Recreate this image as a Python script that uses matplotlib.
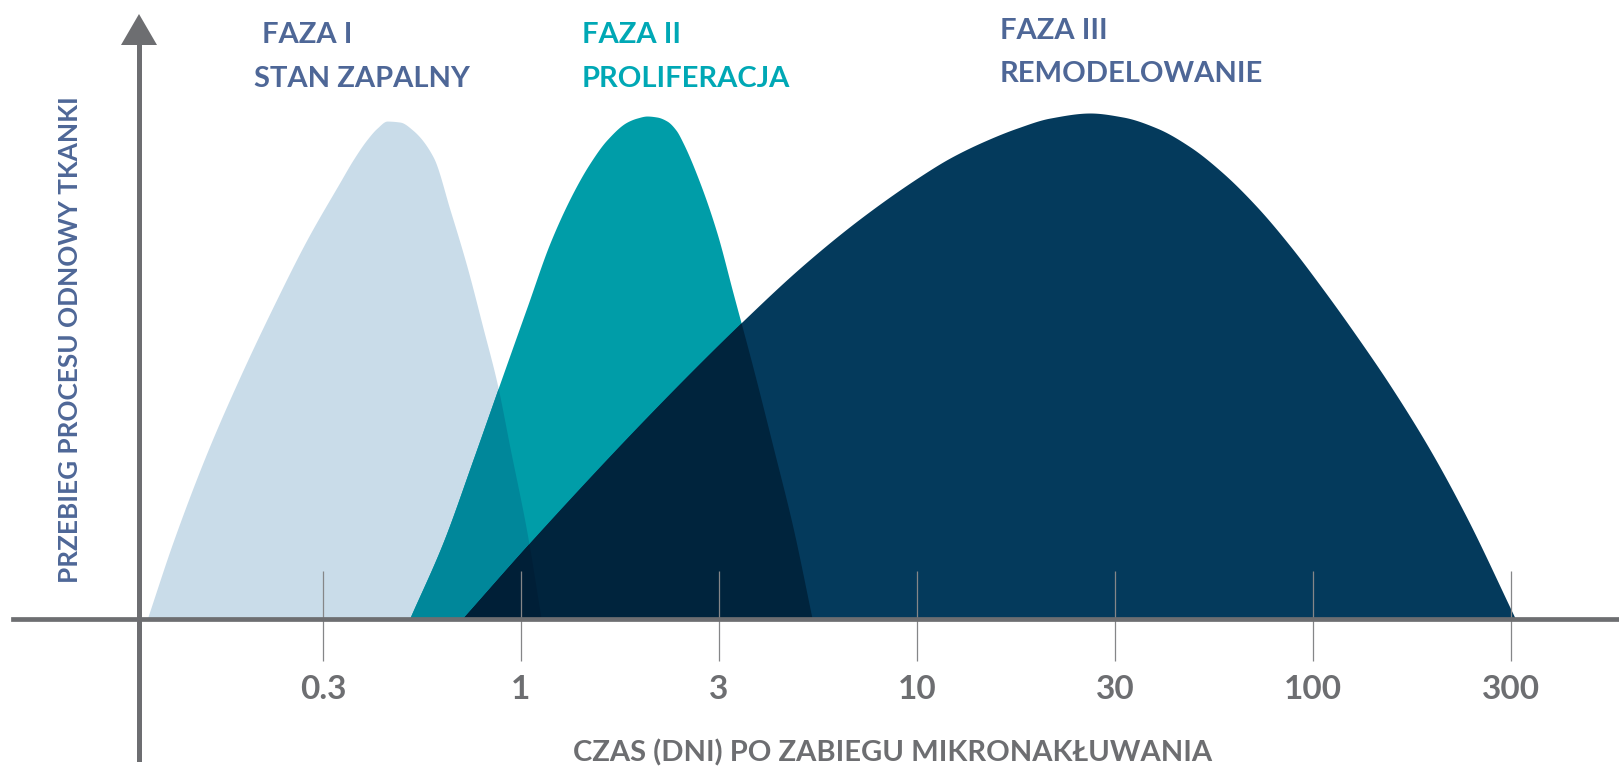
import numpy as np
import matplotlib
matplotlib.use("Agg")
import matplotlib.pyplot as plt
from matplotlib.colors import to_rgb
from matplotlib.patches import Polygon

# --- dane (dni, wysokość względna 0-100) ---
faza1_dni = [0.114, 0.132, 0.161, 0.195, 0.2365, 0.288, 0.349, 0.3765, 0.408, 0.433,
             0.459, 0.495, 0.533, 0.600, 0.662, 0.731, 0.802, 0.870, 0.938, 1.035, 1.123]
faza1_val = [0.0, 14.9, 32.7, 47.7, 61.6, 74.9, 86.3, 90.7, 94.7, 97.0,
             98.4, 98.2, 96.6, 91.3, 80.8, 69.5, 57.4, 46.5, 33.7, 17.0, 0.0]

faza2_dni = [0.524, 0.635, 0.756, 0.885, 1.036, 1.184, 1.353, 1.494, 1.649, 1.852, 1.963,
             2.080, 2.205, 2.337, 2.463, 2.565, 2.832, 3.126, 3.43, 3.85, 4.33, 4.86, 5.43]
faza2_val = [0.0, 14.9, 31.3, 46.5, 61.6, 74.3, 84.2, 90.1, 94.7, 98.2, 99.0,
             99.4, 99.2, 98.4, 96.6, 94.1, 86.1, 76.2, 64.4, 49.7, 33.9, 18.0, 0.0]

faza3_dni = [0.714, 1.072, 2.117, 3.59, 5.13, 7.22, 10.2, 12.12, 14.68, 17.88, 21.68,
             27.35, 33.13, 40.37, 48.92, 59.26, 72.22, 87.5, 106.0, 128.4, 156.5,
             197.5, 244.9, 323.7]
faza3_val = [0.0, 15.6, 40.4, 58.4, 69.7, 79.2, 87.5, 91.1, 94.3, 97.0, 99.0,
             100.0, 99.2, 97.0, 93.3, 88.1, 81.4, 73.7, 65.1, 56.0, 46.1,
             33.3, 19.8, 0.0]

tick_vals = [10 ** -0.5, 1, 10 ** 0.5, 10, 10 ** 1.5, 100, 10 ** 2.5]
tick_labels = ["0.3", "1", "3", "10", "30", "100", "300"]

faza_tytuly = ["FAZA I", "FAZA II", "FAZA III"]
faza_nazwy = ["STAN ZAPALNY", "PROLIFERACJA", "REMODELOWANIE"]

# kolory
c_light = "#C9DCE9"
c_teal = "#009DA8"
c_navy = "#043A5C"
c_gray = "#6D6E71"
c_title_blue = "#4E6797"
c_title_teal = "#00A8B5"


def multiply(*cols):
    out = np.ones(3)
    for c in cols:
        out = out * np.array(to_rgb(c))
    return tuple(out)


def pchip(x, y, xi):
    # gładka krzywa przez odczytane punkty (monotoniczna Hermite'a)
    x = np.asarray(x, float)
    y = np.asarray(y, float)
    h = np.diff(x)
    d = np.diff(y) / h
    m = np.zeros_like(y)
    m[0], m[-1] = d[0], d[-1]
    for k in range(1, len(x) - 1):
        if d[k - 1] * d[k] > 0:
            w1 = 2 * h[k] + h[k - 1]
            w2 = h[k] + 2 * h[k - 1]
            m[k] = (w1 + w2) / (w1 / d[k - 1] + w2 / d[k])
    out = np.zeros_like(xi)
    inside = (xi >= x[0]) & (xi <= x[-1])
    xs = xi[inside]
    i = np.clip(np.searchsorted(x, xs) - 1, 0, len(x) - 2)
    t = (xs - x[i]) / h[i]
    h00 = 2 * t ** 3 - 3 * t ** 2 + 1
    h10 = t ** 3 - 2 * t ** 2 + t
    h01 = -2 * t ** 3 + 3 * t ** 2
    h11 = t ** 3 - t ** 2
    out[inside] = h00 * y[i] + h10 * h[i] * m[i] + h01 * y[i + 1] + h11 * h[i] * m[i + 1]
    return np.clip(out, 0, None)


W, H = 1619, 767
fig = plt.figure(figsize=(W / 100, H / 100), dpi=100)
ax = fig.add_axes([0, 0, 1, 1])
ax.set_xscale("log")
# 1 tick (pół dekady) = 198 px, 1 dzień na x=521 px, linia bazowa na y=618 px
ax.set_xlim(10 ** (-521 / 396), 10 ** ((W - 521) / 396))
ax.set_ylim((618 - H) / 5.05, 618 / 5.05)
ax.axis("off")


def fx(px):
    return px / W


def fy(py):
    return 1 - py / H


# wspólna siatka do liczenia części wspólnych (efekt "multiply")
grid = np.logspace(-1.3, 2.7, 5000)
lg = np.log10(grid)
y1 = pchip(np.log10(faza1_dni), faza1_val, lg)
y2 = pchip(np.log10(faza2_dni), faza2_val, lg)
y3 = pchip(np.log10(faza3_dni), faza3_val, lg)

ax.fill_between(grid, 0, y1, color=c_light, lw=0, zorder=1)
ax.fill_between(grid, 0, y2, color=c_teal, lw=0, zorder=2)
ax.fill_between(grid, 0, y3, color=c_navy, lw=0, zorder=3)
ax.fill_between(grid, 0, np.minimum(y1, y2), color=multiply(c_light, c_teal), lw=0, zorder=4)
ax.fill_between(grid, 0, np.minimum(y1, y3), color=multiply(c_light, c_navy), lw=0, zorder=5)
ax.fill_between(grid, 0, np.minimum(y2, y3), color=multiply(c_teal, c_navy), lw=0, zorder=6)
ax.fill_between(grid, 0, np.minimum(np.minimum(y1, y2), y3),
                color=multiply(c_light, c_teal, c_navy), lw=0, zorder=7)

# znaczniki osi X
ax.vlines(tick_vals, (618 - 661) / 5.05, (618 - 571) / 5.05, color="#858688", lw=0.9, zorder=8)
for v, lab in zip(tick_vals, tick_labels):
    ax.text(v, (618 - 699) / 5.05, lab, ha="center", va="baseline", fontsize=24,
            fontweight="bold", color=c_gray, family="Lato", zorder=9)

# osie
fig.add_artist(plt.Line2D([fx(13), 1], [fy(619), fy(619)], color=c_gray, lw=3.4, zorder=10))
fig.add_artist(plt.Line2D([fx(139), fx(139)], [fy(759), fy(42)], color=c_gray, lw=3.6, zorder=10))
fig.add_artist(Polygon([[fx(139), fy(14)], [fx(121), fy(45)], [fx(157), fy(45)]],
                       closed=True, transform=fig.transFigure, color=c_gray, lw=0, zorder=10))

# podpisy osi
fig.text(fx(893), fy(761), "CZAS (DNI) PO ZABIEGU MIKRONAKŁUWANIA", ha="center", va="baseline",
         fontsize=21, fontweight="bold", color=c_gray, family="Lato")
fig.text(fx(78), fy(340), "PRZEBIEG PROCESU ODNOWY TKANKI", ha="center", va="baseline",
         rotation=90, rotation_mode="anchor", fontsize=18.8, fontweight="bold",
         color=c_title_blue, family="Lato")

# tytuły faz (x lewej krawędzi, linie bazowe)
pozycje = [(262, 254, 43, 87), (582, 582, 43, 87), (1000, 1000, 39, 82)]
kolory = [c_title_blue, c_title_teal, c_title_blue]
for t, n, (x1, x2, ya, yb), c in zip(faza_tytuly, faza_nazwy, pozycje, kolory):
    fig.text(fx(x1), fy(ya), t, ha="left", va="baseline", fontsize=21, fontweight="bold",
             color=c, family="Lato")
    fig.text(fx(x2), fy(yb), n, ha="left", va="baseline", fontsize=21, fontweight="bold",
             color=c, family="Lato")

fig.savefig("out.png", dpi=100, facecolor="white")
